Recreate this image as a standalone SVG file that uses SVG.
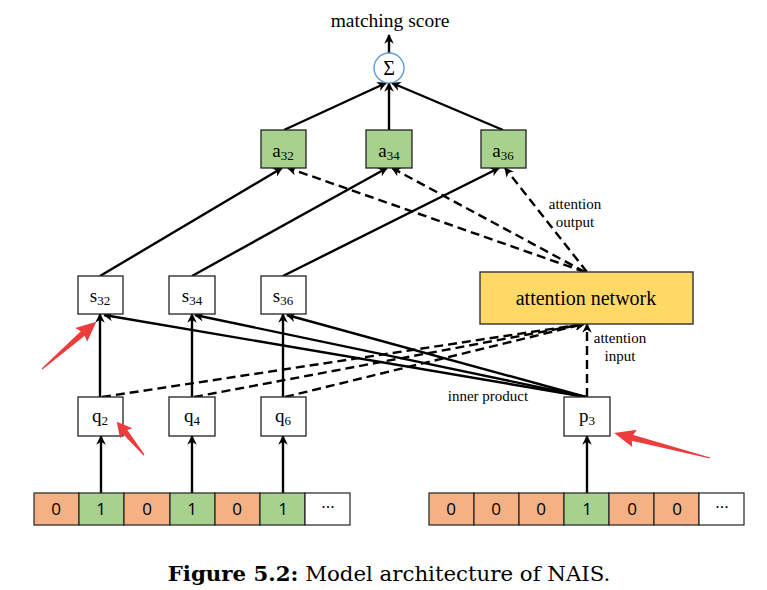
<svg xmlns="http://www.w3.org/2000/svg" width="767" height="590" viewBox="0 0 767 590">
<style>
.t{font-family:"Liberation Serif","Times New Roman",serif;fill:#000}
.lbl{font-size:15px}
.node{font-size:19px}
.sub{font-size:13px}
.box{fill:#fff;stroke:#222;stroke-width:1.3}
.gbox{fill:#A9D18E;stroke:#222;stroke-width:1.3}
.ln{stroke:#000;stroke-width:2.4;fill:none}
.ds{stroke:#000;stroke-width:2.4;fill:none;stroke-dasharray:9,5}
.cell{stroke:#222;stroke-width:1.2}
.o{fill:#F4B183}.g{fill:#A9D18E}.w{fill:#fff}
.v{font-family:"Open Sans","Liberation Sans",sans-serif;font-size:17px;text-anchor:middle}
.red{fill:#EE3B3B}
</style>
<defs>
<marker id="ah" viewBox="0 0 10 10" refX="9" refY="5" markerWidth="4" markerHeight="4" markerUnits="strokeWidth" orient="auto">
<path d="M0,0 L10,5 L0,10 L3,5 z" fill="#000"/>
</marker>
</defs>

<g id="connectors">
<line class="ln" x1="284" y1="130" x2="386" y2="83" marker-end="url(#ah)"/>
<line class="ln" x1="389" y1="130" x2="389" y2="83" marker-end="url(#ah)"/>
<line class="ln" x1="503" y1="130" x2="392" y2="83" marker-end="url(#ah)"/>
<line class="ln" x1="389" y1="53" x2="389" y2="35" marker-end="url(#ah)"/>
<line class="ln" x1="100" y1="276" x2="282" y2="168" marker-end="url(#ah)"/>
<line class="ln" x1="192" y1="276" x2="387" y2="168" marker-end="url(#ah)"/>
<line class="ln" x1="283" y1="276" x2="499" y2="168" marker-end="url(#ah)"/>
<line class="ds" x1="585" y1="272" x2="288" y2="168" marker-end="url(#ah)"/>
<line class="ds" x1="585" y1="272" x2="392" y2="168" marker-end="url(#ah)"/>
<line class="ds" x1="587" y1="272" x2="505" y2="168" marker-end="url(#ah)"/>
<line class="ln" x1="100" y1="397" x2="100" y2="314" marker-end="url(#ah)"/>
<line class="ln" x1="192" y1="397" x2="192" y2="314" marker-end="url(#ah)"/>
<line class="ln" x1="283" y1="397" x2="283" y2="314" marker-end="url(#ah)"/>
<line class="ln" x1="586" y1="397" x2="104" y2="315" marker-end="url(#ah)"/>
<line class="ln" x1="586" y1="397" x2="195" y2="315" marker-end="url(#ah)"/>
<line class="ln" x1="586" y1="397" x2="287" y2="315" marker-end="url(#ah)"/>
<line class="ds" x1="102" y1="397" x2="584" y2="324" marker-end="url(#ah)"/>
<line class="ds" x1="194" y1="397" x2="584" y2="324" marker-end="url(#ah)"/>
<line class="ds" x1="285" y1="397" x2="584" y2="324" marker-end="url(#ah)"/>
<line class="ds" x1="587" y1="397" x2="587" y2="324" marker-end="url(#ah)"/>
<line class="ln" x1="101" y1="493" x2="101" y2="436" marker-end="url(#ah)"/>
<line class="ln" x1="192" y1="493" x2="192" y2="436" marker-end="url(#ah)"/>
<line class="ln" x1="283" y1="493" x2="283" y2="436" marker-end="url(#ah)"/>
<line class="ln" x1="587" y1="493" x2="587" y2="436" marker-end="url(#ah)"/>
</g>

<text class="t" x="390" y="27" font-size="19.5" text-anchor="middle">matching score</text>

<g id="sigma">
<circle cx="389" cy="68" r="15" fill="#fff" stroke="#5B9BD5" stroke-width="1.4"/>
<text class="t" x="389" y="75" font-size="20" text-anchor="middle">Σ</text>
</g>

<g id="a32"><rect class="gbox" x="261" y="130" width="45" height="38"/>
<text class="t node" x="283" y="157" text-anchor="middle">a<tspan class="sub" dy="3">32</tspan></text></g>
<g id="a34"><rect class="gbox" x="366" y="130" width="46" height="38"/>
<text class="t node" x="389" y="157" text-anchor="middle">a<tspan class="sub" dy="3">34</tspan></text></g>
<g id="a36"><rect class="gbox" x="481" y="130" width="45" height="38"/>
<text class="t node" x="503" y="157" text-anchor="middle">a<tspan class="sub" dy="3">36</tspan></text></g>

<g id="s32"><rect class="box" x="78" y="276" width="45" height="38"/>
<text class="t node" x="100" y="302" text-anchor="middle">s<tspan class="sub" dy="3">32</tspan></text></g>
<g id="s34"><rect class="box" x="169" y="276" width="46" height="38"/>
<text class="t node" x="192" y="302" text-anchor="middle">s<tspan class="sub" dy="3">34</tspan></text></g>
<g id="s36"><rect class="box" x="261" y="276" width="45" height="38"/>
<text class="t node" x="283" y="302" text-anchor="middle">s<tspan class="sub" dy="3">36</tspan></text></g>

<g id="attention-network"><rect x="480" y="272" width="213" height="52" fill="#FFD966" stroke="#333" stroke-width="1.4"/>
<text class="t" x="586" y="305" font-size="20" text-anchor="middle">attention network</text></g>

<g id="q2"><rect class="box" x="78" y="397" width="45" height="39"/>
<text class="t node" x="100" y="422" text-anchor="middle">q<tspan class="sub" dy="3">2</tspan></text></g>
<g id="q4"><rect class="box" x="169" y="397" width="46" height="39"/>
<text class="t node" x="192" y="422" text-anchor="middle">q<tspan class="sub" dy="3">4</tspan></text></g>
<g id="q6"><rect class="box" x="261" y="397" width="45" height="39"/>
<text class="t node" x="283" y="422" text-anchor="middle">q<tspan class="sub" dy="3">6</tspan></text></g>
<g id="p3"><rect class="box" x="564" y="397" width="46" height="39"/>
<text class="t node" x="587" y="422" text-anchor="middle">p<tspan class="sub" dy="3">3</tspan></text></g>

<g id="labels">
<text class="t lbl" x="575" y="209" text-anchor="middle">attention</text>
<text class="t lbl" x="575" y="227" text-anchor="middle">output</text>
<text class="t lbl" x="620" y="343" text-anchor="middle">attention</text>
<text class="t lbl" x="620" y="361" text-anchor="middle">input</text>
<text class="t lbl" x="488" y="401" text-anchor="middle">inner product</text>
</g>

<g id="user-vector">
<rect class="cell o" x="34" y="493" width="45" height="32"/>
<rect class="cell g" x="79" y="493" width="45" height="32"/>
<rect class="cell o" x="124" y="493" width="46" height="32"/>
<rect class="cell g" x="170" y="493" width="45" height="32"/>
<rect class="cell o" x="215" y="493" width="45" height="32"/>
<rect class="cell g" x="260" y="493" width="45" height="32"/>
<rect class="cell w" x="305" y="493" width="45" height="32"/>
<text class="v" x="56" y="515">0</text>
<text class="v" x="101" y="515">1</text>
<text class="v" x="147" y="515">0</text>
<text class="v" x="192" y="515">1</text>
<text class="v" x="237" y="515">0</text>
<text class="v" x="283" y="515">1</text>
<text class="v" x="328" y="513">···</text>
</g>

<g id="item-vector">
<rect class="cell o" x="429" y="493" width="45" height="32"/>
<rect class="cell o" x="474" y="493" width="45" height="32"/>
<rect class="cell o" x="519" y="493" width="45" height="32"/>
<rect class="cell g" x="564" y="493" width="45" height="32"/>
<rect class="cell o" x="609" y="493" width="45" height="32"/>
<rect class="cell o" x="654" y="493" width="45" height="32"/>
<rect class="cell w" x="699" y="493" width="45" height="32"/>
<text class="v" x="451" y="515">0</text>
<text class="v" x="496" y="515">0</text>
<text class="v" x="541" y="515">0</text>
<text class="v" x="587" y="515">1</text>
<text class="v" x="632" y="515">0</text>
<text class="v" x="677" y="515">0</text>
<text class="v" x="722" y="513">···</text>
</g>

<g id="red-arrows">
<path class="red" transform="translate(42,369) rotate(-41)" d="M0,-0.6 L54,-3 L52,-9 L72,0 L52,9 L54,3 L0,0.6 Z"/>
<path class="red" transform="translate(144,455) rotate(-129.3)" d="M0,-0.6 L30,-3 L28,-8 L43,0 L28,8 L30,3 L0,0.6 Z"/>
<path class="red" transform="translate(710,458) rotate(-165.4)" d="M0,-0.6 L80,-3 L78,-9 L99,0 L78,9 L80,3 L0,0.6 Z"/>
</g>

<text x="389" y="581" font-family="'DejaVu Serif','Liberation Serif',serif" font-size="21.3" text-anchor="middle"><tspan font-weight="bold">Figure 5.2:</tspan> Model architecture of NAIS.</text>
</svg>
